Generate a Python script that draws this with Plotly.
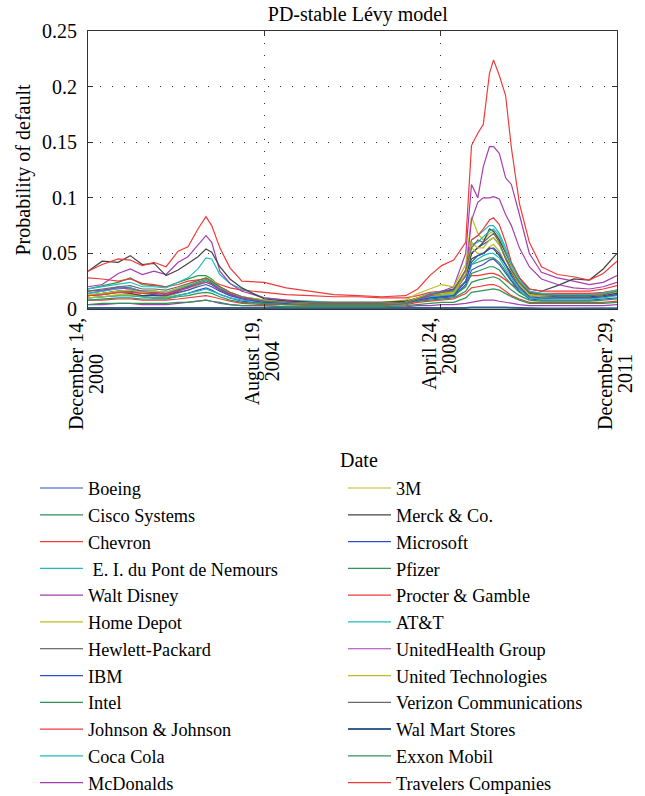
import plotly.graph_objects as go

# ---------------- data ----------------
dates = ["2000-12-14", "2001-04-01", "2001-08-01", "2001-11-01", "2002-02-01", "2002-05-01",
         "2002-08-01", "2002-11-01", "2003-01-15", "2003-04-01", "2003-06-01", "2003-07-15",
         "2003-09-15", "2003-12-01", "2004-03-01",
         "2004-08-19", "2005-02-01", "2005-08-01", "2006-02-01", "2006-08-01", "2007-02-01",
         "2007-08-01", "2007-11-01", "2008-02-01",
         "2008-05-01", "2008-08-01", "2008-11-01", "2008-12-15", "2009-02-01", "2009-03-15",
         "2009-05-01", "2009-06-01", "2009-07-15", "2009-09-01", "2009-10-15", "2009-12-15",
         "2010-03-01", "2010-06-01", "2010-10-01", "2011-02-01", "2011-06-01", "2011-09-15",
         "2011-12-29"]

boeing = [0.014, 0.016, 0.020, 0.019, 0.016, 0.016, 0.015, 0.018, 0.021, 0.024, 0.026, 0.024, 0.018, 0.014, 0.010,
          0.007, 0.006, 0.005, 0.005, 0.005, 0.005, 0.006, 0.009, 0.012,
          0.013, 0.015, 0.030, 0.050, 0.055, 0.058, 0.062, 0.064, 0.058, 0.046, 0.036, 0.024,
          0.014, 0.013, 0.013, 0.013, 0.013, 0.014, 0.016]
cisco = [0.018, 0.021, 0.024, 0.028, 0.022, 0.021, 0.020, 0.024, 0.027, 0.030, 0.030, 0.027, 0.020, 0.015, 0.011,
         0.007, 0.006, 0.005, 0.005, 0.005, 0.005, 0.006, 0.009, 0.012,
         0.013, 0.014, 0.025, 0.040, 0.042, 0.044, 0.046, 0.046, 0.042, 0.034, 0.026, 0.018,
         0.012, 0.011, 0.012, 0.013, 0.013, 0.014, 0.016]
chevron = [0.028, 0.027, 0.025, 0.027, 0.023, 0.022, 0.020, 0.022, 0.025, 0.026, 0.027, 0.025, 0.022, 0.019, 0.017,
           0.015, 0.013, 0.012, 0.011, 0.011, 0.010, 0.010, 0.012, 0.015,
           0.016, 0.017, 0.024, 0.030, 0.030, 0.031, 0.032, 0.032, 0.030, 0.026, 0.022, 0.018,
           0.015, 0.014, 0.014, 0.014, 0.014, 0.015, 0.017]
dupont = [0.018, 0.020, 0.022, 0.024, 0.020, 0.020, 0.019, 0.024, 0.028, 0.036, 0.046, 0.045, 0.031, 0.023, 0.018,
          0.010, 0.008, 0.007, 0.006, 0.006, 0.006, 0.007, 0.010, 0.014,
          0.016, 0.018, 0.035, 0.062, 0.066, 0.070, 0.075, 0.075, 0.068, 0.055, 0.040, 0.028,
          0.016, 0.014, 0.013, 0.013, 0.012, 0.014, 0.017]
disney = [0.020, 0.022, 0.032, 0.036, 0.031, 0.034, 0.031, 0.042, 0.047, 0.058, 0.066, 0.060, 0.034, 0.023, 0.016,
          0.010, 0.008, 0.006, 0.005, 0.005, 0.005, 0.006, 0.009, 0.013,
          0.016, 0.020, 0.050, 0.112, 0.100, 0.128, 0.146, 0.146, 0.140, 0.118, 0.112, 0.085,
          0.050, 0.033, 0.028, 0.025, 0.022, 0.024, 0.030]
home_depot = [0.012, 0.014, 0.016, 0.017, 0.015, 0.015, 0.014, 0.017, 0.020, 0.024, 0.027, 0.025, 0.020, 0.015, 0.011,
              0.008, 0.007, 0.006, 0.006, 0.006, 0.006, 0.008, 0.014, 0.018,
              0.022, 0.020, 0.040, 0.083, 0.068, 0.062, 0.068, 0.070, 0.064, 0.050, 0.038, 0.025,
              0.014, 0.012, 0.012, 0.012, 0.012, 0.013, 0.017]
hewlett = [0.034, 0.043, 0.042, 0.048, 0.040, 0.041, 0.030, 0.035, 0.041, 0.047, 0.054, 0.051, 0.038, 0.027, 0.019,
           0.009, 0.007, 0.006, 0.005, 0.005, 0.005, 0.006, 0.009, 0.012,
           0.015, 0.018, 0.030, 0.050, 0.055, 0.060, 0.072, 0.070, 0.062, 0.050, 0.040, 0.028,
           0.018, 0.016, 0.021, 0.027, 0.026, 0.036, 0.050]
ibm = [0.010, 0.011, 0.012, 0.012, 0.011, 0.010, 0.010, 0.012, 0.014, 0.017, 0.019, 0.017, 0.013, 0.010, 0.007,
       0.005, 0.004, 0.004, 0.004, 0.004, 0.004, 0.005, 0.007, 0.009,
       0.010, 0.011, 0.022, 0.035, 0.038, 0.040, 0.044, 0.045, 0.040, 0.032, 0.025, 0.016,
       0.009, 0.008, 0.008, 0.008, 0.008, 0.009, 0.010]
intel = [0.012, 0.014, 0.016, 0.017, 0.015, 0.015, 0.014, 0.017, 0.020, 0.023, 0.024, 0.022, 0.017, 0.013, 0.010,
         0.006, 0.005, 0.004, 0.004, 0.004, 0.004, 0.005, 0.008, 0.010,
         0.011, 0.012, 0.020, 0.032, 0.034, 0.036, 0.038, 0.038, 0.035, 0.028, 0.022, 0.015,
         0.010, 0.009, 0.010, 0.010, 0.010, 0.011, 0.013]
johnson = [0.008, 0.008, 0.009, 0.009, 0.008, 0.008, 0.008, 0.009, 0.010, 0.011, 0.012, 0.011, 0.009, 0.007, 0.005,
           0.004, 0.004, 0.003, 0.003, 0.003, 0.003, 0.004, 0.006, 0.007,
           0.008, 0.009, 0.014, 0.019, 0.020, 0.021, 0.022, 0.022, 0.020, 0.016, 0.012, 0.009,
           0.006, 0.006, 0.006, 0.006, 0.006, 0.006, 0.007]
coca_cola = [0.010, 0.011, 0.012, 0.012, 0.011, 0.010, 0.010, 0.012, 0.014, 0.016, 0.018, 0.016, 0.013, 0.010, 0.008,
             0.006, 0.005, 0.004, 0.004, 0.004, 0.004, 0.005, 0.008, 0.011,
             0.012, 0.013, 0.025, 0.040, 0.045, 0.048, 0.050, 0.050, 0.046, 0.036, 0.028, 0.018,
             0.010, 0.009, 0.009, 0.009, 0.009, 0.010, 0.012]
mcdonalds = [0.004, 0.004, 0.005, 0.005, 0.004, 0.004, 0.004, 0.005, 0.006, 0.007, 0.008, 0.007, 0.005, 0.004, 0.003,
             0.003, 0.002, 0.002, 0.002, 0.002, 0.002, 0.002, 0.003, 0.003,
             0.004, 0.004, 0.005, 0.006, 0.007, 0.008, 0.008, 0.008, 0.007, 0.006, 0.005, 0.004,
             0.003, 0.003, 0.003, 0.003, 0.003, 0.003, 0.004]
three_m = [0.010, 0.011, 0.013, 0.013, 0.012, 0.012, 0.011, 0.014, 0.017, 0.021, 0.025, 0.023, 0.018, 0.013, 0.010,
           0.007, 0.006, 0.005, 0.005, 0.005, 0.005, 0.006, 0.010, 0.012,
           0.013, 0.014, 0.030, 0.055, 0.050, 0.050, 0.056, 0.058, 0.052, 0.040, 0.030, 0.020,
           0.012, 0.011, 0.011, 0.011, 0.011, 0.012, 0.015]
merck = [0.012, 0.013, 0.015, 0.014, 0.012, 0.012, 0.012, 0.016, 0.020, 0.024, 0.026, 0.023, 0.018, 0.013, 0.010,
         0.008, 0.007, 0.006, 0.006, 0.006, 0.006, 0.007, 0.010, 0.013,
         0.014, 0.016, 0.030, 0.045, 0.048, 0.050, 0.055, 0.054, 0.048, 0.040, 0.032, 0.022,
         0.014, 0.012, 0.011, 0.011, 0.011, 0.012, 0.014]
microsoft = [0.012, 0.014, 0.016, 0.016, 0.014, 0.013, 0.012, 0.015, 0.017, 0.020, 0.022, 0.020, 0.016, 0.012, 0.009,
             0.006, 0.005, 0.004, 0.004, 0.004, 0.004, 0.005, 0.008, 0.010,
             0.011, 0.012, 0.025, 0.042, 0.048, 0.050, 0.054, 0.055, 0.050, 0.040, 0.030, 0.020,
             0.011, 0.010, 0.010, 0.010, 0.010, 0.011, 0.013]
pfizer = [0.008, 0.009, 0.010, 0.010, 0.009, 0.009, 0.009, 0.011, 0.012, 0.014, 0.015, 0.014, 0.011, 0.008, 0.006,
          0.005, 0.004, 0.004, 0.004, 0.004, 0.004, 0.005, 0.007, 0.008,
          0.009, 0.010, 0.016, 0.024, 0.026, 0.027, 0.028, 0.029, 0.027, 0.022, 0.017, 0.012,
          0.008, 0.007, 0.007, 0.007, 0.007, 0.008, 0.009]
procter = [0.012, 0.013, 0.015, 0.015, 0.014, 0.014, 0.013, 0.016, 0.019, 0.023, 0.026, 0.024, 0.019, 0.014, 0.010,
           0.007, 0.006, 0.005, 0.005, 0.005, 0.005, 0.006, 0.009, 0.012,
           0.014, 0.016, 0.035, 0.062, 0.066, 0.072, 0.080, 0.082, 0.076, 0.060, 0.042, 0.028,
           0.018, 0.016, 0.016, 0.016, 0.016, 0.018, 0.021]
att = [0.014, 0.016, 0.018, 0.019, 0.016, 0.016, 0.015, 0.018, 0.021, 0.024, 0.026, 0.024, 0.019, 0.015, 0.011,
       0.008, 0.006, 0.005, 0.005, 0.005, 0.005, 0.006, 0.009, 0.013,
       0.015, 0.016, 0.030, 0.058, 0.060, 0.065, 0.070, 0.072, 0.066, 0.052, 0.040, 0.026,
       0.015, 0.013, 0.013, 0.013, 0.013, 0.014, 0.017]
unitedhealth = [0.016, 0.017, 0.019, 0.018, 0.016, 0.015, 0.014, 0.017, 0.019, 0.022, 0.024, 0.022, 0.017, 0.013, 0.010,
                0.007, 0.006, 0.005, 0.005, 0.005, 0.005, 0.006, 0.009, 0.012,
                0.015, 0.017, 0.030, 0.080, 0.096, 0.100, 0.100, 0.101, 0.099, 0.085, 0.075, 0.055,
                0.038, 0.027, 0.022, 0.019, 0.018, 0.020, 0.024]
united_tech = [0.013, 0.014, 0.016, 0.017, 0.015, 0.016, 0.015, 0.019, 0.022, 0.026, 0.028, 0.026, 0.020, 0.015, 0.011,
               0.008, 0.006, 0.005, 0.005, 0.005, 0.005, 0.006, 0.010, 0.013,
               0.014, 0.015, 0.032, 0.060, 0.055, 0.055, 0.062, 0.064, 0.058, 0.045, 0.034, 0.022,
               0.013, 0.012, 0.012, 0.012, 0.012, 0.013, 0.016]
verizon = [0.016, 0.018, 0.020, 0.021, 0.018, 0.018, 0.017, 0.020, 0.023, 0.026, 0.028, 0.025, 0.020, 0.015, 0.011,
           0.007, 0.006, 0.005, 0.005, 0.005, 0.005, 0.006, 0.009, 0.013,
           0.015, 0.017, 0.035, 0.055, 0.062, 0.060, 0.065, 0.068, 0.060, 0.045, 0.035, 0.024,
           0.015, 0.013, 0.012, 0.012, 0.012, 0.013, 0.016]
walmart = [0.0008, 0.0008, 0.0009, 0.0009, 0.0008, 0.0008, 0.0007, 0.0008, 0.0009, 0.0010, 0.0010, 0.0009, 0.0008, 0.0007, 0.0006,
           0.0005, 0.0004, 0.0004, 0.0004, 0.0004, 0.0004, 0.0004, 0.0005, 0.0006,
           0.0006, 0.0007, 0.0010, 0.0014, 0.0015, 0.0016, 0.0017, 0.0017, 0.0016, 0.0013, 0.0011, 0.0008,
           0.0006, 0.0005, 0.0005, 0.0005, 0.0005, 0.0005, 0.0006]
exxon = [0.004, 0.005, 0.005, 0.005, 0.005, 0.005, 0.005, 0.006, 0.006, 0.007, 0.008, 0.007, 0.006, 0.004, 0.003,
         0.003, 0.002, 0.002, 0.002, 0.002, 0.002, 0.003, 0.004, 0.005,
         0.006, 0.006, 0.010, 0.015, 0.016, 0.017, 0.018, 0.018, 0.017, 0.014, 0.011, 0.008,
         0.005, 0.005, 0.005, 0.005, 0.005, 0.005, 0.006]
travelers = [0.034, 0.040, 0.045, 0.044, 0.039, 0.042, 0.038, 0.052, 0.056, 0.072, 0.083, 0.075, 0.055, 0.037, 0.025,
             0.024, 0.019, 0.016, 0.013, 0.012, 0.011, 0.012, 0.018, 0.030,
             0.039, 0.044, 0.060, 0.147, 0.158, 0.166, 0.212, 0.224, 0.210, 0.192, 0.145, 0.095,
             0.060, 0.038, 0.031, 0.029, 0.026, 0.032, 0.043]

company_names = ["Boeing", "Cisco Systems", "Chevron", " E. I. du Pont de Nemours", "Walt Disney",
                 "Home Depot", "Hewlett-Packard", "IBM", "Intel", "Johnson & Johnson", "Coca Cola",
                 "McDonalds", "3M", "Merck & Co.", "Microsoft", "Pfizer", "Procter & Gamble", "AT&T",
                 "UnitedHealth Group", "United Technologies", "Verizon Communications",
                 "Wal Mart Stores", "Exxon Mobil", "Travelers Companies"]
company_values = [boeing, cisco, chevron, dupont, disney, home_depot, hewlett, ibm, intel, johnson,
                  coca_cola, mcdonalds, three_m, merck, microsoft, pfizer, procter, att, unitedhealth,
                  united_tech, verizon, walmart, exxon, travelers]

tick_dates = ["2000-12-14", "2004-08-19", "2008-04-24", "2011-12-29"]
tick_line1 = ["December 14,", "August 19,", "April 24,", "December 29,"]
tick_line2 = ["2000", "2004", "2008", "2011"]
y_ticks = [0, 0.05, 0.1, 0.15, 0.2, 0.25]

# ---------------- style ----------------
color_cycle = ["#3050c8", "#2f9456", "#f03a3a", "#1fbcbc", "#a43fb0", "#bdbd1e", "#444444"]
FONT = "Liberation Serif, Times New Roman, serif"

fig = go.Figure()
for i, (name, vals) in enumerate(zip(company_names, company_values)):
    col = color_cycle[i % 7]
    width = 1.2
    if name.startswith("Verizon"):
        col = "#6a6a6a"
    if name.startswith("Wal Mart"):
        col = "#34618f"
        width = 2
    fig.add_trace(go.Scatter(
        x=dates, y=vals, mode="lines", name=name,
        line=dict(color=col, width=width),
        legend="legend" if i < 12 else "legend2",
    ))

grid_common = dict(showgrid=True, gridcolor="#333333", gridwidth=1, griddash="1px,11px",
                   showline=True, linecolor="#333333", linewidth=1, mirror="allticks",
                   ticks="inside", ticklen=5, tickcolor="#333333", zeroline=False)

fig.update_xaxes(type="date", range=[dates[0], dates[-1]], tickvals=tick_dates,
                 showticklabels=False, **grid_common)
fig.update_yaxes(range=[0, 0.25], tickvals=y_ticks, ticktext=["0", "0.05", "0.1", "0.15", "0.2", "0.25"],
                 tickfont=dict(size=20, family=FONT), ticklabelstandoff=6,
                 title=dict(text="Probability of default", font=dict(size=20, family=FONT), standoff=6),
                 **grid_common)

# rotated two-line date labels
centers = [374, 361, 354, 374]
annotations = []
for d, l1, l2, c in zip(tick_dates, tick_line1, tick_line2, centers):
    for txt, xs in ((l1, -12), (l2, 8)):
        annotations.append(dict(x=d, xref="x", y=0, yref="paper", text=txt, textangle=-90,
                                xanchor="center", yanchor="middle", xshift=xs, yshift=-(c - 309),
                                showarrow=False, font=dict(size=20, family=FONT, color="black")))
# x-axis title
annotations.append(dict(x=0.5, xref="paper", y=0, yref="paper", text="Date", xshift=6, yshift=-151,
                        xanchor="center", yanchor="middle", showarrow=False,
                        font=dict(size=20, family=FONT, color="black")))

legend_common = dict(xanchor="left", yanchor="top", y=-0.5777, itemwidth=43,
                     font=dict(size=18.3, family=FONT, color="black"),
                     bgcolor="rgba(0,0,0,0)", borderwidth=0, traceorder="normal")

fig.update_layout(
    width=645, height=796,
    margin=dict(l=88, r=28, t=31, b=487, autoexpand=False),
    paper_bgcolor="white", plot_bgcolor="white",
    font=dict(family=FONT, size=20, color="black"),
    title=dict(text="PD-stable Lévy model", x=0.51, xref="paper", xanchor="center",
               y=1 - 14 / 796, yref="container", yanchor="middle",
               font=dict(size=20, family=FONT, color="black")),
    legend=dict(x=-0.1002, **legend_common),
    legend2=dict(x=0.482, **legend_common),
    annotations=annotations,
    showlegend=True,
)

fig.write_html("out.html")
